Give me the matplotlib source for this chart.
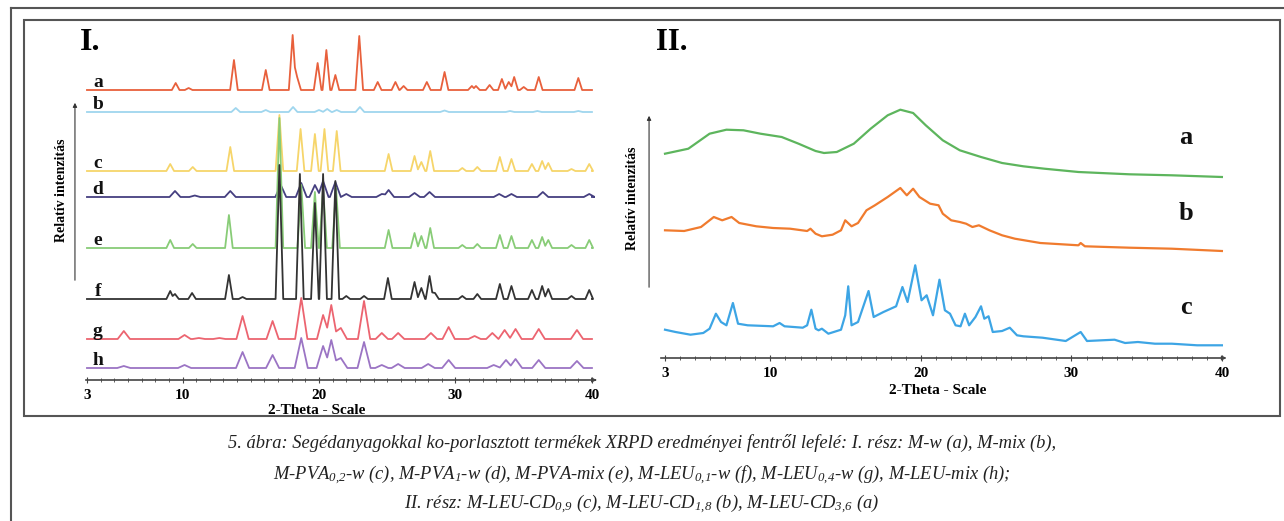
import matplotlib.pyplot as plt
from matplotlib.lines import Line2D
from matplotlib.patches import Rectangle
from matplotlib.ticker import MultipleLocator

W, H = 1284, 521

# --- I. rész: csúcsok helye (2-Theta) és magassága (rel. intenzitás) ---
A_POS = [9.5, 10.45, 13.77, 16.1, 18.07, 18.4, 19.9, 20.54, 21.2, 22.95, 24.3, 25.6, 26.2,
         27.9, 29.2, 31.2, 31.5, 32.5, 33.4, 33.9, 34.3, 35.0, 36.1, 39.0]
A_INT = [7, 2, 30, 20, 55, 13, 27, 40, 15, 54, 8, 8, 4, 8, 18, 4, 4, 5, 11, 8, 13, 3, 13, 12]

B_POS = [13.9, 16.1, 18.1, 20.0, 20.6, 21.3, 23.0, 29.2, 34.0, 36.0, 39.0]
B_INT = [4, 2, 5, 2, 3, 2, 5, 1.5, 1, 1, 1]

C_POS = [9.1, 10.75, 13.5, 17.1, 18.65, 19.7, 20.4, 21.3, 25.1, 27.0, 27.5, 28.15, 30.5,
         31.6, 33.25, 34.1, 35.6, 36.35, 36.8, 38.5, 39.8]
C_INT = [7, 4, 24, 56, 42, 37, 42, 40, 17, 15, 9, 20, 3, 4, 14, 12, 7, 10, 8, 2, 7]

D_POS = [9.45, 10.9, 13.5, 17.2, 18.7, 19.7, 20.3, 21.2, 22.0, 24.6, 25.1, 27.0, 28.1,
         33.2, 34.1, 36.4, 39.8]
D_INT = [6, 1.5, 6, 12, 14, 12, 16, 15, 3, 3, 7, 4, 5, 3, 3, 5, 3]

E_POS = [9.1, 10.75, 13.4, 17.1, 18.7, 19.7, 20.3, 21.25, 25.1, 27.0, 27.5, 28.15, 30.5,
         31.6, 33.25, 34.1, 35.6, 36.35, 36.8, 38.5, 39.8]
E_INT = [8, 4, 33, 130, 63, 56, 60, 60, 18, 15, 12, 20, 3, 4, 13, 12, 8, 11, 8, 3, 8]

F_POS = [9.1, 9.45, 10.7, 13.4, 14.4, 17.1, 18.6, 19.7, 20.3, 21.2, 22.0, 23.3, 25.05,
         27.0, 27.5, 28.1, 28.5, 30.5, 31.6, 33.25, 34.1, 35.6, 36.35, 36.8, 38.5, 39.8]
F_INT = [8, 5, 6, 24, 2, 134, 125, 96, 125, 118, 3, 3, 21, 17, 11, 23, 6, 3, 5, 15, 13,
         9, 13, 10, 3, 9]

G_POS = [5.7, 10.15, 11.2, 12.7, 14.4, 16.6, 18.7, 20.3, 20.9, 21.6, 23.3, 24.6, 25.8,
         28.2, 29.5, 31.4, 32.7, 33.6, 34.4, 36.1, 38.9]
G_INT = [8, 4, 1, 1, 23, 18, 41, 24, 34, 11, 38, 6, 6, 6, 12, 3, 6, 9, 10, 10, 9]

H_POS = [5.7, 10.15, 14.4, 16.6, 18.7, 20.3, 20.9, 21.6, 23.3, 24.6, 25.8, 28.0, 29.5,
         32.8, 33.7, 34.4, 36.1, 38.9]
H_INT = [2, 3, 16, 13, 30, 22, 28, 10, 26, 3, 4, 4, 8, 3, 8, 9, 8, 7]

LABELS_I = ['a', 'b', 'c', 'd', 'e', 'f', 'g', 'h']

# --- II. rész: mért pontok (2-Theta, rel. intenzitás) ---
IIA_X = [3.0, 4.55, 5.96, 7.08, 8.21, 9.34, 10.75, 11.87, 13.0, 13.56, 14.41, 15.54, 16.66,
         17.79, 18.63, 19.48, 20.32, 21.45, 22.58, 23.99, 25.39, 26.8, 28.2, 30.46, 33.85,
         36.66, 39.99]
IIA_Y = [23.3, 28.3, 43.3, 47.3, 46.7, 43.3, 40, 33.3, 26, 24, 25, 33.3, 48.3, 61.7, 67.3,
         64, 51.7, 36.7, 26.7, 20, 14, 10.7, 8.3, 5, 2.7, 1.7, 0]

IIB_X = [3.0, 4.27, 5.39, 6.24, 6.8, 7.42, 7.93, 9.06, 10.18, 11.31, 12.44, 12.66, 13.0,
         13.42, 14.13, 14.69, 14.97, 15.39, 15.82, 16.38, 16.94, 17.79, 18.63, 19.06, 19.48,
         19.9, 20.61, 21.17, 21.45, 22.01, 22.58, 23.0, 23.42, 23.85, 24.55, 25.39, 26.24,
         27.93, 30.46, 30.61, 30.89, 33.85, 36.66, 39.99]
IIB_Y = [20.7, 20, 24, 34, 30.7, 34, 28, 24.7, 23, 22.3, 20, 22.3, 17.3, 14.7, 16.3, 20.7,
         30.7, 24.7, 28, 40.7, 45.7, 54, 63, 55.7, 62.3, 54, 47.3, 45.7, 37.3, 30.7, 29,
         27.3, 24, 25.7, 20.7, 15.7, 12.3, 8, 5.7, 8, 4.7, 3.3, 2.3, 0]

IIC_X = [3.0, 3.7, 4.69, 5.54, 5.96, 6.38, 6.72, 7.08, 7.51, 7.85, 8.49, 10.18, 10.61, 10.94,
         12.15, 12.44, 12.72, 13.0, 13.2, 13.42, 13.85, 14.69, 14.97, 15.17, 15.39, 15.82,
         16.52, 16.86, 17.51, 18.35, 18.77, 19.11, 19.62, 20.04, 20.38, 20.8, 21.23, 21.59,
         21.93, 22.3, 22.63, 22.92, 23.2, 23.62, 23.99, 24.21, 24.49, 24.77, 25.39, 25.9,
         26.38, 26.8, 28.07, 29.62, 30.61, 31.03, 32.86, 33.56, 34.41, 35.54, 36.66, 38.35,
         39.99]
IIC_Y = [17.3, 15, 12.3, 14, 18.3, 33.3, 25, 21.7, 44, 23.3, 21.7, 20.7, 24, 20.7, 19.3,
         21.7, 37.3, 18.3, 16.7, 18.3, 13.3, 17.3, 31.7, 60.7, 21.7, 25, 56, 30, 35, 40.7,
         60, 45, 81.7, 46.7, 51.7, 31.7, 67.3, 36.7, 33.3, 21.7, 20.7, 33.3, 21.7, 30, 40.7,
         28.3, 30.7, 15, 16, 19.3, 11.7, 10.7, 9.3, 6, 15, 6, 7.3, 4, 5, 3.3, 3.3, 1.7, 1.7]

LABELS_II = ['a', 'b', 'c']
TICKS = [3, 10, 20, 30, 40]

plt.rcParams['font.family'] = 'Liberation Serif'
plt.rcParams['mathtext.fontset'] = 'custom'
plt.rcParams['mathtext.rm'] = 'Liberation Serif:italic'
plt.rcParams['mathtext.it'] = 'Liberation Serif:italic'


def peak_line(pos, hgt, hw, x0=3.0, x1=40.0):
    # vonal csúcsonként: talp - csúcs - talp, átfedésnél völgy
    xs, ys = [x0, pos[0] - hw], [0.0, 0.0]
    for i in range(len(pos)):
        xs.append(pos[i])
        ys.append(hgt[i])
        if i + 1 < len(pos):
            gap = pos[i + 1] - pos[i]
            if gap >= 2 * hw:
                xs += [pos[i] + hw, pos[i + 1] - hw]
                ys += [0.0, 0.0]
            else:
                xs.append(pos[i] + gap / 2)
                ys.append(max(hgt[i], hgt[i + 1]) * (1 - gap / (2 * hw)))
    xs += [pos[-1] + hw, x1]
    ys += [0.0, 0.0]
    return xs, ys


def px_axes(fig, left, top, right, bottom):
    return fig.add_axes([left / W, 1 - bottom / H, (right - left) / W, (bottom - top) / H])


def style_axis(ax, xlim, ylim):
    ax.set_xlim(*xlim)
    ax.set_ylim(*ylim)
    ax.patch.set_visible(False)
    for s in ('left', 'right', 'top'):
        ax.spines[s].set_visible(False)
    ax.spines['bottom'].set_color('#444444')
    ax.spines['bottom'].set_linewidth(1.2)
    ax.set_yticks([])
    ax.set_xticks(TICKS)
    ax.set_xticklabels([str(t) for t in TICKS], fontsize=11, fontweight='bold')
    ax.xaxis.set_minor_locator(MultipleLocator(1))
    ax.tick_params(axis='x', which='major', direction='inout', length=5, width=0.8,
                   color='#444444', pad=4)
    ax.tick_params(axis='x', which='minor', direction='inout', length=3, width=0.6,
                   color='#444444')
    ax.annotate('', xy=(xlim[1] + 0.15, 0), xytext=(xlim[1] - 0.2, 0), annotation_clip=False,
                arrowprops=dict(arrowstyle='-|>', color='#444444', lw=0.8, mutation_scale=7))


fig = plt.figure(figsize=(W / 100, H / 100), dpi=100)

# keretek
fig.add_artist(Line2D([11 / W, 1], [1 - 8 / H, 1 - 8 / H], color='#555555', lw=1.5))
fig.add_artist(Line2D([11 / W, 11 / W], [0, 1 - 8 / H], color='#555555', lw=1.5))
fig.add_artist(Rectangle((24 / W, 1 - 416 / H), (1280 - 24) / W, (416 - 20) / H,
                         fill=False, edgecolor='#555555', lw=1.5, transform=fig.transFigure))

# ---- I. panel ----
ax1 = px_axes(fig, 85.6, 30, 594.7, 380)
style_axis(ax1, (2.9, 40.2), (0, 350))

series_i = [(A_POS, A_INT), (B_POS, B_INT), (C_POS, C_INT), (D_POS, D_INT),
            (E_POS, E_INT), (F_POS, F_INT), (G_POS, G_INT), (H_POS, H_INT)]
offsets_i = [290, 268, 209, 183, 132, 81, 41, 12]
widths_i = [0.28, 0.32, 0.28, 0.4, 0.28, 0.28, 0.45, 0.48]
colors_i = ['#e8603c', '#9fd6ee', '#f6d56a', '#453f80', '#88cc77', '#333333',
            '#ec6470', '#9b74c4']

for (pos, hgt), off, hw, col, lab in zip(series_i, offsets_i, widths_i, colors_i, LABELS_I):
    xs, ys = peak_line(pos, hgt, hw)
    ax1.plot(xs, [y + off for y in ys], color=col, lw=1.3, solid_joinstyle='round')
    ax1.text(3.8, off + 3, lab, fontsize=14, fontweight='bold', ha='center', va='baseline',
             color='#111111')

ax1.text(2.5, 330, 'I.', fontsize=23, fontweight='bold', ha='left', va='baseline')
ax1.annotate('', xy=(2.12, 280), xytext=(2.12, 97), annotation_clip=False,
             arrowprops=dict(arrowstyle='-|>', color='#333333', lw=0.8, mutation_scale=6))
ax1.text(1.17, 190, 'Relatív intenzitás', rotation=90, fontsize=10, fontweight='bold',
         ha='center', va='center')
ax1.text(19.8, -30, '2-Theta - Scale', fontsize=11, fontweight='bold', ha='center',
         va='center')

# ---- II. panel ----
ax2 = px_axes(fig, 660.5, 100, 1224.3, 358)
style_axis(ax2, (2.7, 40.15), (0, 258))

series_ii = [(IIA_X, IIA_Y), (IIB_X, IIB_Y), (IIC_X, IIC_Y)]
offsets_ii = [181, 107, 11]
colors_ii = ['#5db55d', '#f07b2e', '#3da5e5']
label_y_ii = [221, 145, 51]

for (xs, ys), off, col, lab, ly in zip(series_ii, offsets_ii, colors_ii, LABELS_II, label_y_ii):
    ax2.plot(xs, [y + off for y in ys], color=col, lw=1.6, solid_joinstyle='round')
    ax2.text(37.6, ly, lab, fontsize=19, fontweight='bold', ha='center', va='center',
             color='#111111')

ax2.text(2.4, 308, 'II.', fontsize=22, fontweight='bold', ha='left', va='baseline')
ax2.annotate('', xy=(1.94, 245), xytext=(1.94, 68), annotation_clip=False,
             arrowprops=dict(arrowstyle='-|>', color='#333333', lw=0.8, mutation_scale=6))
ax2.text(0.87, 160, 'Relatív intenzitás', rotation=90, fontsize=10, fontweight='bold',
         ha='center', va='center')
ax2.text(21.1, -32, '2-Theta - Scale', fontsize=11, fontweight='bold', ha='center',
         va='center')

# ---- ábrafelirat ----
caption = [
    "5. ábra: Segédanyagokkal ko-porlasztott termékek XRPD eredményei fentről lefelé: "
    "I. rész: M-w (a), M-mix (b),",
    r"M-PVA$_{0{,}2}$-w (c), M-PVA$_{1}$-w (d), M-PVA-mix (e), M-LEU$_{0{,}1}$-w (f), "
    r"M-LEU$_{0{,}4}$-w (g), M-LEU-mix (h);",
    r"II. rész: M-LEU-CD$_{0{,}9}$ (c), M-LEU-CD$_{1{,}8}$ (b), M-LEU-CD$_{3{,}6}$ (a)",
]
for line, y in zip(caption, [448, 479, 508]):
    fig.text(642 / W, 1 - y / H, line, fontsize=13.3, style='italic', ha='center',
             va='baseline', color='#222222')

fig.savefig('out.png', dpi=100)
